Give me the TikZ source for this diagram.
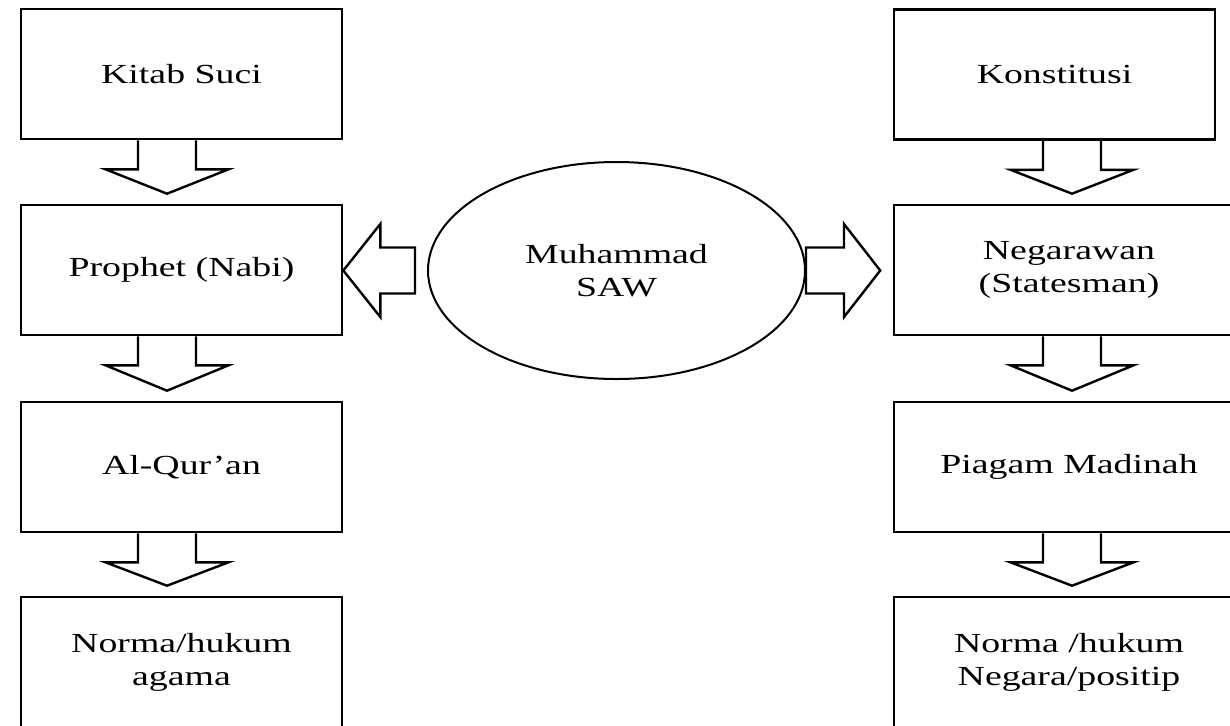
\documentclass[tikz,border=0pt]{standalone}
\usepackage{fontspec}
\setmainfont[FakeStretch=1.37]{Liberation Serif}
\usetikzlibrary{positioning, shapes.geometric, calc}

\begin{document}
\begin{tikzpicture}[
    x=0.5pt, y=-0.5pt,  % one unit = one pixel of the sketch
    % Styles
    textbox/.style={draw, line width=1.3pt, minimum width=160.5pt, minimum height=65pt, align=center, font=\fontsize{13.8}{16.5}\selectfont},
    widebox/.style={textbox, minimum width=175pt},
    figure/.style={draw, ellipse, line width=1pt, minimum width=188.5pt, minimum height=108.5pt, align=center, font=\fontsize{13.8}{16.5}\selectfont},
    down-arrow/.style={line width=1.2pt, to path={let \p1=(\tikztostart), \p2=(\tikztotarget) in
        (\x1-14.5pt,\y1) -- (\x1-14.5pt,\y1-14.5pt) -- (\x1-30.75pt,\y1-14.5pt) -- (\x1,\y2+5pt)
        -- (\x1+30.75pt,\y1-14.5pt) -- (\x1+14.5pt,\y1-14.5pt) -- (\x1+14.5pt,\y1)}},
    left-arrow/.style={line width=1.2pt, to path={let \p1=(\tikztostart), \p2=(\tikztotarget) in
        (\x1-6pt,\y1+11.5pt) -- (\x2+18.5pt,\y1+11.5pt) -- (\x2+18.5pt,\y1+23.25pt) -- (\x2,\y1)
        -- (\x2+18.5pt,\y1-23.25pt) -- (\x2+18.5pt,\y1-11.5pt) -- (\x1-6pt,\y1-11.5pt) -- cycle}},
    right-arrow/.style={line width=1.2pt, to path={let \p1=(\tikztostart), \p2=(\tikztotarget) in
        (\x1,\y1+11.5pt) -- (\x1+19pt,\y1+11.5pt) -- (\x1+19pt,\y1+23.25pt) -- (\x2-6.25pt,\y1)
        -- (\x1+19pt,\y1-23.25pt) -- (\x1+19pt,\y1-11.5pt) -- (\x1,\y1-11.5pt) -- cycle}},
]

\useasboundingbox (0,0) rectangle (1230,725);
\clip (0,0) rectangle (1230,725);

% Centre
\node[figure] (muhammad) at (616.5,270.5) {Muhammad\\SAW};

% Left column: religion
\node[textbox] (kitab) at (181.5,74) {Kitab Suci};
\node[textbox] (nabi) at (181.5,270) {Prophet (Nabi)};
\node[textbox] (quran) at (181.5,467) {Al-Qur’an};
\node[textbox] (agama) at (181.5,662) {Norma/hukum\\agama};

% Right column: state
\node[textbox] (konstitusi) at (1054.5,74.5) {Konstitusi};
\node[widebox] (negarawan) at (1069,270) {Negarawan\\(Statesman)};
\node[widebox] (piagam) at (1069,467) {Piagam Madinah};
\node[widebox] (positip) at (1069,662) {Norma /hukum\\Negara/positip};

% Block arrows
\draw[down-arrow] ([xshift=-7.25pt]kitab.south) to (nabi.north);
\draw[down-arrow] ([xshift=-7.25pt]nabi.south) to (quran.north);
\draw[down-arrow] ([xshift=-7.25pt]quran.south) to (agama.north);

\draw[down-arrow] ([xshift=8.75pt]konstitusi.south) to (negarawan.north);
\draw[down-arrow] ([xshift=1.5pt]negarawan.south) to (piagam.north);
\draw[down-arrow] ([xshift=1.5pt]piagam.south) to (positip.north);

\draw[left-arrow] (muhammad.west) to (nabi.east);
\draw[right-arrow] (muhammad.east) to (negarawan.west);

\end{tikzpicture}
\end{document}
